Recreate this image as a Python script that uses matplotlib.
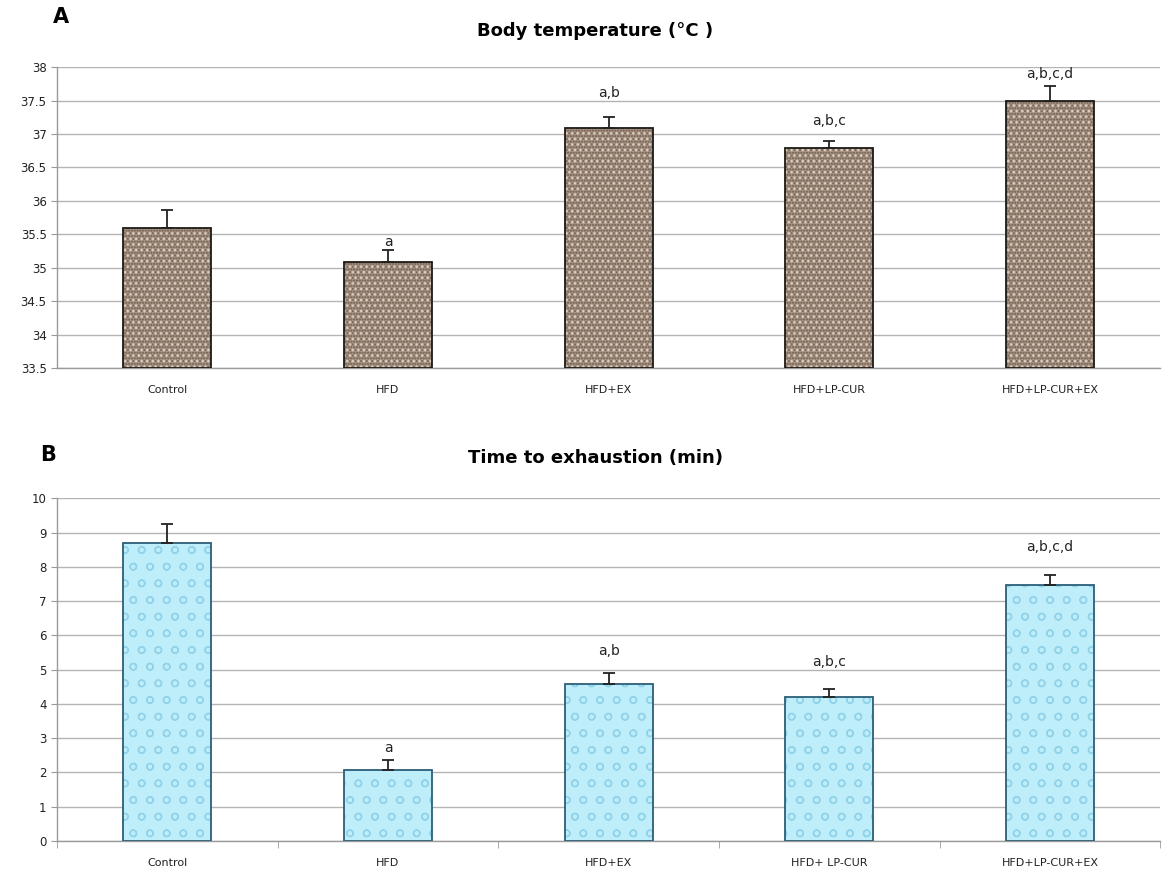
import matplotlib
matplotlib.use("Agg")
import matplotlib.pyplot as plt
import numpy as np

# ---------------------------------------------------------------------------
# Data
# ---------------------------------------------------------------------------
groups_a = ["Control", "HFD", "HFD+EX", "HFD+LP-CUR", "HFD+LP-CUR+EX"]
temp_mean = [35.59, 35.09, 37.09, 36.79, 37.50]
temp_err = [0.28, 0.17, 0.16, 0.11, 0.22]
temp_letters = ["", "a", "a,b", "a,b,c", "a,b,c,d"]
temp_letter_y = [None, 35.38, 37.61, 37.20, 37.90]

groups_b = ["Control", "HFD", "HFD+EX", "HFD+ LP-CUR", "HFD+LP-CUR+EX"]
time_mean = [8.70, 2.08, 4.57, 4.19, 7.47]
time_err = [0.54, 0.29, 0.33, 0.25, 0.28]
time_letters = ["", "a", "a,b", "a,b,c", "a,b,c,d"]
time_letter_y = [None, 2.72, 5.54, 5.22, 8.57]

GRID = "#b4b4b4"

fig = plt.figure(figsize=(11.7, 8.72), dpi=100)
ax_a = fig.add_axes([0.0487, 0.578, 0.943, 0.345])
ax_b = fig.add_axes([0.0487, 0.0356, 0.943, 0.393])


def style_axes(ax):
    for side in ("top", "right"):
        ax.spines[side].set_visible(False)
    for side in ("left", "bottom"):
        ax.spines[side].set_color("#9a9a9a")
        ax.spines[side].set_linewidth(1.0)
    ax.yaxis.grid(True, color=GRID, linewidth=1.0)
    ax.set_axisbelow(True)
    ax.tick_params(axis="y", labelsize=8.5, colors="#9a9a9a", labelcolor="#222222", length=4)
    ax.tick_params(axis="x", labelsize=8, labelcolor="#222222")


def draw_panel(ax, groups, mean, err, letters, letter_y, base, hatch_layers, edge, bottom):
    x = np.arange(len(groups))
    heights = [m - bottom for m in mean]
    ax.bar(x, heights, bottom=bottom, width=0.4, color=base, linewidth=0, zorder=2)
    for hatch, hcol in hatch_layers:
        ax.bar(x, heights, bottom=bottom, width=0.4, color="none", edgecolor=hcol,
               hatch=hatch, linewidth=0, zorder=2)
    ax.bar(x, heights, bottom=bottom, width=0.4, color="none", edgecolor=edge,
           linewidth=1.3, zorder=3)
    ax.errorbar(x, mean, yerr=[np.zeros(len(err)), err], fmt="none", ecolor="#222222",
                elinewidth=1.3, capsize=4, capthick=1.3, zorder=4)
    for xi, lab, ly in zip(x, letters, letter_y):
        if lab:
            ax.text(xi, ly, lab, ha="center", va="center", fontsize=10, color="#222222")
    ax.set_xlim(-0.5, len(groups) - 0.5)
    ax.set_xticks(x)
    ax.set_xticklabels(groups)


# --- Panel A: body temperature ---
style_axes(ax_a)
draw_panel(ax_a, groups_a, temp_mean, temp_err, temp_letters, temp_letter_y,
           base="#a89484",
           hatch_layers=[("......", "#6e5c4e"), ("...", "#dccfc2")],
           edge="#1e1a16", bottom=33.5)
ax_a.set_ylim(33.5, 38)
ax_a.set_yticks(np.arange(33.5, 38.01, 0.5))
ax_a.set_yticklabels(["33.5", "34", "34.5", "35", "35.5", "36", "36.5", "37", "37.5", "38"])
ax_a.tick_params(axis="x", length=0, pad=12)

# --- Panel B: time to exhaustion ---
style_axes(ax_b)
draw_panel(ax_b, groups_b, time_mean, time_err, time_letters, time_letter_y,
           base="#bdeefa",
           hatch_layers=[("o", "#93d3ea")],
           edge="#2b5f78", bottom=0)
ax_b.set_ylim(0, 10)
ax_b.set_yticks(np.arange(0, 11, 1))
ax_b.set_xticks(np.arange(len(groups_b)))
ax_b.set_xticks(np.arange(-0.5, len(groups_b), 1), minor=True)
ax_b.tick_params(axis="x", which="major", length=0, pad=12)
ax_b.tick_params(axis="x", which="minor", length=5, colors="#9a9a9a", direction="out")

# --- Titles and panel letters ---
fig.text(0.509, 0.965, "Body temperature (°C )", ha="center", va="center",
         fontsize=13, fontweight="bold")
fig.text(0.509, 0.475, "Time to exhaustion (min)", ha="center", va="center",
         fontsize=13, fontweight="bold")
fig.text(0.052, 0.98, "A", ha="center", va="center", fontsize=15, fontweight="bold")
fig.text(0.041, 0.478, "B", ha="center", va="center", fontsize=15, fontweight="bold")

fig.savefig("out.png", dpi=100)
